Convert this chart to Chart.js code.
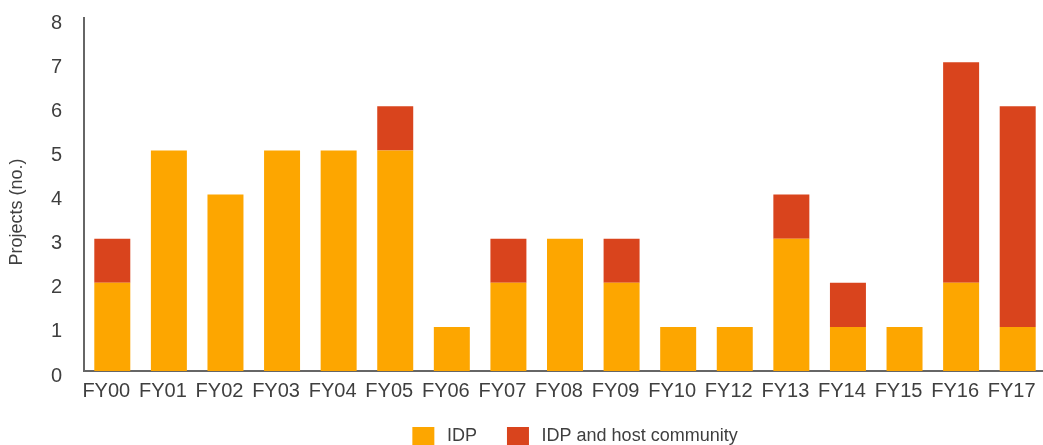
<!DOCTYPE html>
<html lang="en">
<head>
    <meta charset="UTF-8">
    <title>Projects by fiscal year</title>
    <script src="https://cdn.jsdelivr.net/npm/chart.js@4.4.0/dist/chart.umd.min.js"></script>
    <style>
        html, body { margin: 0; padding: 0; background: #ffffff; overflow: hidden; }
        .wrap { position: relative; width: 1046px; height: 445px; }
    </style>
</head>
<body>
    <div class="wrap"><canvas id="chart"></canvas></div>
    <script>
        // data (FY11 is absent in the source)
        const years = ['FY00', 'FY01', 'FY02', 'FY03', 'FY04', 'FY05', 'FY06', 'FY07', 'FY08',
            'FY09', 'FY10', 'FY12', 'FY13', 'FY14', 'FY15', 'FY16', 'FY17'];
        const idp = [2, 5, 4, 5, 5, 5, 1, 2, 3, 2, 1, 1, 3, 1, 1, 2, 1];
        const idpHost = [1, 0, 0, 0, 0, 1, 0, 1, 0, 1, 0, 0, 1, 1, 0, 5, 5];
        const yTicks = [0, 1, 2, 3, 4, 5, 6, 7, 8];

        const textColor = '#3f3f3f';
        const fontFamily = "'Liberation Sans', Arial, sans-serif";

        // the source legend sits a little right of centre
        const legendNudge = {
            id: 'legendNudge',
            afterLayout: chart => {
                chart.legend.left += 10;
                chart.legend.right += 10;
            }
        };

        new Chart(document.getElementById('chart'), {
            type: 'bar',
            data: {
                labels: years,
                datasets: [
                    { label: 'IDP', data: idp, backgroundColor: '#FDA600' },
                    { label: 'IDP and host community', data: idpHost, backgroundColor: '#D9441D' }
                ]
            },
            plugins: [legendNudge],
            options: {
                responsive: true,
                maintainAspectRatio: false,
                animation: false,
                datasets: { bar: { categoryPercentage: 1, barPercentage: 0.636 } },
                layout: { padding: { top: 18, right: 0, left: 0, bottom: 0 } },
                plugins: {
                    legend: {
                        position: 'bottom',
                        fullSize: false,
                        maxHeight: 48,
                        labels: {
                            color: textColor,
                            font: { family: fontFamily, size: 18 },
                            boxWidth: 22,
                            boxHeight: 18,
                            padding: 30,
                            // a thin space widens the gap between swatch and text
                            generateLabels: chart => Chart.defaults.plugins.legend.labels.generateLabels(chart)
                                .map(item => ({ ...item, text: '\u2009' + item.text }))
                        }
                    },
                    tooltip: { enabled: false }
                },
                scales: {
                    x: {
                        stacked: true,
                        grid: { display: false, drawTicks: false },
                        border: { color: '#666666', width: 2 },
                        ticks: {
                            color: textColor,
                            font: { family: fontFamily, size: 20, lineHeight: 1 },
                            padding: 10,
                            labelOffset: -6,
                            maxRotation: 0,
                            autoSkip: false
                        },
                        afterFit: axis => {
                            axis.height = 26;
                            axis.paddingLeft = 0;
                            axis.paddingRight = 0;
                        }
                    },
                    y: {
                        stacked: true,
                        min: 0,
                        max: 8,
                        afterBuildTicks: axis => { axis.ticks = yTicks.map(v => ({ value: v })); },
                        grid: { display: false, drawTicks: false },
                        border: { color: '#666666', width: 2 },
                        ticks: { color: textColor, font: { family: fontFamily, size: 20 }, padding: 22, labelOffset: 5 },
                        title: {
                            display: true,
                            // trailing spaces push the centred title down, as in the source
                            text: 'Projects (no.)       ',
                            color: textColor,
                            font: { family: fontFamily, size: 18 },
                            padding: { top: 6, bottom: 0 }
                        },
                        afterFit: axis => {
                            axis.width = 84;
                            axis.paddingTop = 0;
                            axis.paddingBottom = 0;
                        }
                    }
                }
            }
        });
    </script>
</body>
</html>
